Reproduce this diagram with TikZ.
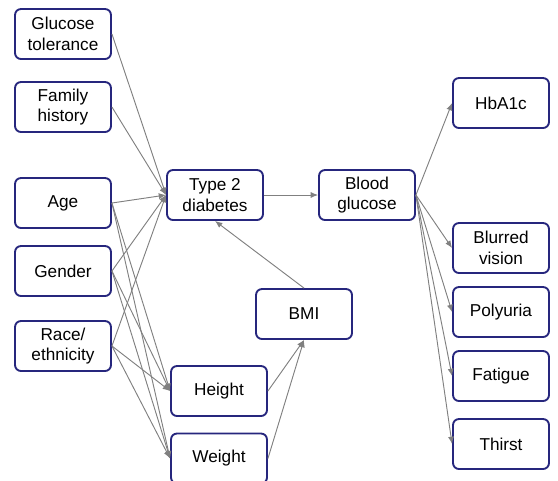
\documentclass[tikz,border=0pt]{standalone}
\usepackage{fontspec}
\setmainfont{Liberation Sans}
\usetikzlibrary{arrows.meta}

\definecolor{boxblue}{RGB}{38,38,125}
\definecolor{linkgray}{RGB}{128,128,128}

\tikzset{
  var/.style={draw=boxblue, line width=1.4pt, rounded corners=4.5pt, fill=white,
    minimum width=72pt, minimum height=37.5pt, align=center, inner sep=1pt,
    font=\fontsize{12.9}{15.5}\selectfont},
  link/.style={draw=linkgray, line width=0.7pt, -{Latex[length=5.5pt,width=4.5pt]}}
}

\begin{document}
\begin{tikzpicture}[x=0.75pt,y=-0.75pt]
			\useasboundingbox (0,0) rectangle (558,480);
			\clip (0,0) rectangle (558,480);
			% exposures
			\node[var] (gluc) at (63,34) {Glucose\\tolerance};
			\node[var] (fam) at (63,107) {Family\\history};
			\node[var] (age) at (63,203) {Age};
			\node[var] (sex) at (63,271) {Gender};
			\node[var] (race) at (63,346) {Race/\\ethnicity};
			% middle
			\node[var] (t2d) at (215,195) {Type 2\\diabetes};
			\node[var] (bg) at (367,195) {Blood\\glucose};
			\node[var] (bmi) at (304,314) {BMI};
			\node[var] (ht) at (219,391) {Height};
			\node[var] (wt) at (219,458.5) {Weight};
			% outcomes
			\node[var] (hba) at (501,103) {HbA1c};
			\node[var] (blur) at (501,248) {Blurred\\vision};
			\node[var] (poly) at (501,312) {Polyuria};
			\node[var] (fat) at (501,376) {Fatigue};
			\node[var] (thir) at (501,444) {Thirst};

			\foreach \src in {gluc,fam,age,sex,race}
			  \draw[link] (\src.east) -- (t2d.west);
			\foreach \src in {age,sex,race} {
			  \draw[link] (\src.east) -- (ht.west);
			  \draw[link] (\src.east) -- (wt.west);
			}
			\draw[link] (t2d.east) -- (bg.west);
			\draw[link] (bmi.north) -- (t2d.south);
			\draw[link] (ht.east) -- (bmi.south);
			\draw[link] (wt.east) -- (bmi.south);
			\foreach \dst in {hba,blur,poly,fat,thir}
			  \draw[link] (bg.east) -- (\dst.west);
			\end{tikzpicture}
\end{document}
